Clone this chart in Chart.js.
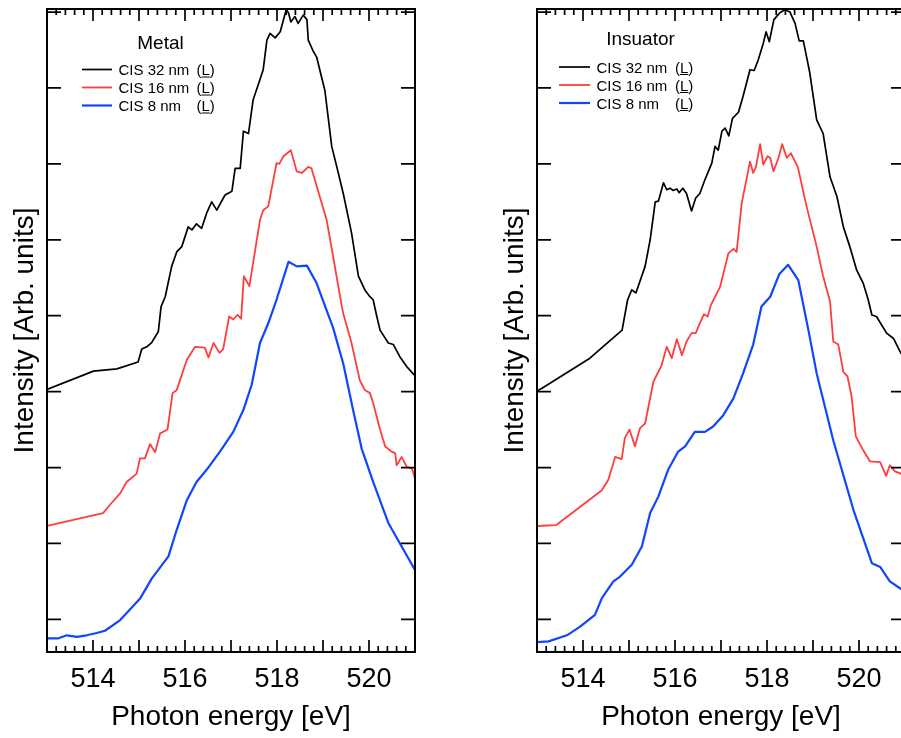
<!DOCTYPE html>
<html>
<head>
<meta charset="utf-8">
<title>CIS spectra – Metal / Insuator</title>
<script src="https://cdn.jsdelivr.net/npm/chart.js@4.4.1/dist/chart.umd.min.js"></script>
<style>
  html, body { margin: 0; padding: 0; background: #fff; overflow: hidden; }
  #wrap { position: relative; width: 901px; height: 738px; overflow: hidden; background: #fff; }
  canvas { position: absolute; top: 0; }
  #metal { left: 0; }
  #insulator { left: 490px; }
</style>
</head>
<body>
<div id="wrap">
  <canvas id="metal" width="450" height="738"></canvas>
  <canvas id="insulator" width="450" height="738"></canvas>
</div>
<script>
// ---- axis settings ----
const xMin = 513, xMax = 521;
const xTickLabels = [514, 516, 518, 520];
const xMinorStep = 0.2;
const yMin = -0.43, yMax = 8.04;
const yTickValues = [0, 1, 2, 3, 4, 5, 6, 7, 8];

// ---- series names ----
const seriesNames = ['CIS 32 nm', 'CIS 16 nm', 'CIS 8 nm'];

// ---- Metal panel ----
const metal32E = [513.0, 514.01, 514.52, 514.98, 515.06, 515.17, 515.28, 515.42, 515.48, 515.57, 515.71, 515.82, 515.93, 516.07, 516.15, 516.25, 516.36, 516.47, 516.58, 516.69, 516.87, 517.02, 517.09, 517.2, 517.27, 517.38, 517.48, 517.63, 517.7, 517.78, 517.85, 517.96, 518.07, 518.2, 518.25, 518.3, 518.39, 518.46, 518.57, 518.65, 518.68, 518.79, 518.86, 519.04, 519.19, 519.3, 519.44, 519.62, 519.77, 519.91, 520.02, 520.09, 520.17, 520.24, 520.42, 520.53, 520.67, 520.82, 521.0];
const metal32I = [3.03, 3.27, 3.30, 3.39, 3.56, 3.59, 3.65, 3.79, 4.12, 4.25, 4.65, 4.84, 4.91, 5.17, 5.13, 5.21, 5.15, 5.35, 5.50, 5.39, 5.59, 5.64, 5.94, 5.94, 6.43, 6.40, 6.84, 7.11, 7.24, 7.63, 7.72, 7.66, 7.74, 8.03, 7.99, 7.87, 7.94, 7.85, 7.96, 7.90, 7.63, 7.48, 7.41, 6.97, 6.23, 5.96, 5.61, 5.09, 4.52, 4.34, 4.25, 4.21, 3.99, 3.81, 3.64, 3.62, 3.46, 3.33, 3.21];

const metal16E = [513.0, 514.22, 514.37, 514.59, 514.73, 514.95, 515.02, 515.13, 515.24, 515.35, 515.46, 515.62, 515.73, 515.82, 516.04, 516.22, 516.43, 516.51, 516.62, 516.75, 516.83, 516.96, 517.05, 517.14, 517.22, 517.28, 517.4, 517.63, 517.7, 517.81, 517.99, 518.05, 518.14, 518.22, 518.3, 518.43, 518.54, 518.68, 518.75, 519.08, 519.22, 519.41, 519.44, 519.62, 519.8, 519.91, 520.02, 520.09, 520.24, 520.35, 520.49, 520.57, 520.6, 520.71, 520.82, 520.93, 521.0];
const metal16I = [1.23, 1.40, 1.51, 1.66, 1.81, 1.92, 2.12, 2.12, 2.31, 2.20, 2.45, 2.50, 2.98, 3.02, 3.42, 3.59, 3.58, 3.45, 3.64, 3.51, 3.56, 3.99, 3.95, 4.01, 3.96, 4.52, 4.39, 5.26, 5.39, 5.44, 6.01, 6.00, 6.10, 6.14, 6.18, 5.90, 5.88, 5.96, 5.94, 5.26, 4.78, 4.12, 4.03, 3.64, 3.15, 3.02, 2.98, 2.85, 2.50, 2.28, 2.21, 2.19, 2.03, 2.14, 2.01, 1.99, 1.86];

const metal8E = [513.0, 513.25, 513.43, 513.65, 513.86, 514.08, 514.26, 514.59, 515.02, 515.28, 515.64, 515.82, 516.04, 516.25, 516.47, 516.76, 517.05, 517.27, 517.45, 517.63, 517.81, 517.99, 518.25, 518.43, 518.65, 518.86, 519.22, 519.44, 519.66, 519.84, 520.09, 520.42, 521.0];
const metal8I = [-0.25, -0.25, -0.21, -0.23, -0.21, -0.18, -0.15, -0.01, 0.27, 0.54, 0.83, 1.18, 1.57, 1.81, 1.97, 2.21, 2.47, 2.76, 3.09, 3.64, 3.90, 4.21, 4.71, 4.65, 4.66, 4.43, 3.84, 3.37, 2.74, 2.25, 1.81, 1.27, 0.65];

// ---- Insuator panel ----
const insul32E = [513.0, 513.1, 514.15, 514.85, 514.97, 515.06, 515.15, 515.35, 515.46, 515.57, 515.64, 515.75, 515.82, 515.89, 515.96, 516.04, 516.09, 516.17, 516.25, 516.36, 516.45, 516.54, 516.65, 516.8, 516.87, 516.94, 517.02, 517.09, 517.17, 517.25, 517.38, 517.48, 517.63, 517.72, 517.81, 517.92, 517.98, 518.05, 518.15, 518.28, 518.39, 518.5, 518.61, 518.7, 518.79, 518.93, 519.08, 519.22, 519.37, 519.52, 519.66, 519.8, 519.95, 520.09, 520.2, 520.28, 520.38, 520.6, 520.75, 520.89, 521.0];
const insul32I = [3.01, 3.04, 3.44, 3.81, 4.21, 4.34, 4.30, 4.65, 5.00, 5.50, 5.51, 5.75, 5.66, 5.68, 5.65, 5.67, 5.62, 5.68, 5.61, 5.38, 5.55, 5.61, 5.79, 6.01, 6.23, 6.18, 6.43, 6.47, 6.37, 6.60, 6.68, 6.89, 7.24, 7.23, 7.37, 7.59, 7.74, 7.61, 7.90, 7.99, 8.03, 8.00, 7.85, 7.62, 7.62, 7.20, 6.58, 6.40, 5.83, 5.57, 5.17, 4.91, 4.60, 4.43, 4.21, 4.01, 3.99, 3.77, 3.70, 3.53, 3.42];

const insul16E = [513.0, 513.41, 513.72, 514.04, 514.41, 514.55, 514.7, 514.84, 514.91, 515.01, 515.13, 515.24, 515.35, 515.53, 515.71, 515.82, 515.93, 516.04, 516.15, 516.25, 516.36, 516.45, 516.54, 516.63, 516.71, 516.78, 516.98, 517.16, 517.27, 517.34, 517.45, 517.63, 517.7, 517.76, 517.85, 517.92, 518.01, 518.07, 518.14, 518.25, 518.33, 518.43, 518.52, 518.61, 518.67, 518.86, 519.08, 519.22, 519.37, 519.44, 519.55, 519.66, 519.75, 519.84, 519.93, 520.09, 520.24, 520.46, 520.59, 520.67, 520.78, 520.91, 521.0];
const insul16I = [1.23, 1.24, 1.38, 1.53, 1.70, 1.84, 2.14, 2.11, 2.39, 2.50, 2.28, 2.52, 2.58, 3.13, 3.35, 3.59, 3.44, 3.69, 3.48, 3.66, 3.77, 3.77, 3.90, 4.02, 3.99, 4.14, 4.38, 4.82, 4.88, 4.84, 5.48, 6.03, 5.88, 5.96, 6.26, 5.99, 6.10, 6.08, 5.90, 6.08, 6.26, 6.08, 6.14, 6.03, 5.96, 5.44, 4.91, 4.52, 4.19, 3.66, 3.62, 3.26, 3.20, 2.93, 2.41, 2.23, 2.08, 2.07, 1.89, 2.03, 1.95, 1.92, 1.86];

const insul8E = [513.0, 513.25, 513.65, 513.93, 514.26, 514.41, 514.66, 514.8, 515.06, 515.28, 515.46, 515.64, 515.85, 516.07, 516.22, 516.43, 516.65, 516.83, 517.05, 517.27, 517.48, 517.7, 517.88, 518.07, 518.27, 518.46, 518.68, 518.9, 519.08, 519.44, 519.88, 520.28, 520.46, 520.67, 520.89, 521.0];
const insul8I = [-0.30, -0.29, -0.21, -0.10, 0.06, 0.28, 0.50, 0.56, 0.72, 0.96, 1.40, 1.62, 1.97, 2.21, 2.28, 2.47, 2.47, 2.54, 2.69, 2.91, 3.24, 3.62, 4.12, 4.25, 4.55, 4.67, 4.47, 3.81, 3.24, 2.36, 1.44, 0.74, 0.69, 0.50, 0.41, 0.36];

// ---- styling ----
const FONT = '"Liberation Sans", Arial, Helvetica, sans-serif';
const lineColors = ['#000000', '#ff3d3d', '#1046ff'];
const lineWidths = [1.7, 1.8, 2.2];

Chart.defaults.font.family = FONT;
Chart.defaults.color = '#000';

const toPoints = (xs, ys) => xs.map((v, i) => ({ x: v, y: ys[i] }));

// Box frame with inward tick marks on all four sides
const frameTicks = {
  id: 'frameTicks',
  afterDatasetsDraw(chart) {
    const { ctx, chartArea: a, scales: { x, y } } = chart;
    ctx.save();
    ctx.strokeStyle = '#000';
    ctx.lineWidth = 1.7;
    ctx.beginPath();
    const n = Math.round((xMax - xMin) / xMinorStep);
    for (let i = 0; i <= n; i++) {
      const v = xMin + i * xMinorStep;
      const px = x.getPixelForValue(v);
      const major = Math.abs(v - Math.round(v)) < 1e-6;
      const len = major ? 12 : 6;
      ctx.moveTo(px, a.bottom); ctx.lineTo(px, a.bottom - len);
      ctx.moveTo(px, a.top); ctx.lineTo(px, a.top + len);
    }
    yTickValues.forEach(v => {
      const py = y.getPixelForValue(v);
      ctx.moveTo(a.left, py); ctx.lineTo(a.left + 14, py);
      ctx.moveTo(a.right, py); ctx.lineTo(a.right - 14, py);
    });
    ctx.stroke();
    ctx.lineWidth = 2;
    ctx.strokeRect(a.left, a.top, a.right - a.left, a.bottom - a.top);
    ctx.restore();
  }
};

// Legend box inside the plot area with a heading and the "(L)" axis tag
const panelLegend = {
  id: 'panelLegend',
  afterDraw(chart, args, o) {
    const ctx = chart.ctx;
    ctx.save();
    ctx.fillStyle = '#000';
    ctx.textBaseline = 'alphabetic';
    ctx.font = o.titleSize + 'px ' + FONT;
    ctx.textAlign = 'center';
    ctx.fillText(o.title, o.titleX, o.titleY);
    ctx.font = o.size + 'px ' + FONT;
    ctx.textAlign = 'left';
    const wOpen = ctx.measureText('(').width;
    const wL = ctx.measureText('L').width;
    chart.data.datasets.forEach((ds, i) => {
      const yr = o.rowY + i * o.rowGap;
      ctx.strokeStyle = ds.borderColor;
      ctx.lineWidth = ds.borderWidth;
      ctx.beginPath();
      ctx.moveTo(o.lineX0, yr);
      ctx.lineTo(o.lineX1, yr);
      ctx.stroke();
      ctx.fillText(ds.label, o.textX, yr + 5.5);
      ctx.fillText('(L)', o.tagX, yr + 5.5);
      ctx.strokeStyle = '#000';
      ctx.lineWidth = 1;
      ctx.beginPath();
      ctx.moveTo(o.tagX + wOpen, yr + 7.5);
      ctx.lineTo(o.tagX + wOpen + wL, yr + 7.5);
      ctx.stroke();
    });
    ctx.restore();
  }
};

function makePanel(canvasId, series, legendOpts) {
  const datasets = series.map((s, i) => ({
    label: seriesNames[i],
    data: toPoints(s[0], s[1]),
    borderColor: lineColors[i],
    borderWidth: lineWidths[i],
    pointRadius: 0,
    tension: 0,
    fill: false,
    borderJoinStyle: 'round'
  }));
  return new Chart(document.getElementById(canvasId), {
    type: 'line',
    data: { datasets },
    options: {
      responsive: false,
      animation: false,
      devicePixelRatio: 1,
      layout: { padding: { top: 9, right: 35, left: 0, bottom: 0 } },
      plugins: {
        legend: { display: false },
        tooltip: { enabled: false },
        panelLegend: legendOpts
      },
      scales: {
        x: {
          type: 'linear',
          min: xMin,
          max: xMax,
          afterBuildTicks: s => { s.ticks = xTickLabels.map(v => ({ value: v })); },
          afterFit: s => { s.height = 86; },
          grid: { display: false, drawTicks: false },
          border: { display: false },
          ticks: {
            font: { size: 27 },
            color: '#000',
            padding: 11,
            maxRotation: 0,
            autoSkip: false,
            callback: v => String(v)
          },
          title: {
            display: true,
            text: 'Photon energy [eV]',
            font: { size: 28 },
            color: '#000',
            padding: { top: 0, bottom: 4 }
          }
        },
        y: {
          type: 'linear',
          min: yMin,
          max: yMax,
          afterFit: s => { s.width = 47; },
          grid: { display: false, drawTicks: false },
          border: { display: false },
          ticks: { display: false },
          title: {
            display: true,
            text: 'Intensity [Arb. units]',
            font: { size: 28 },
            color: '#000',
            padding: { top: 8, bottom: 0 }
          }
        }
      }
    },
    plugins: [frameTicks, panelLegend]
  });
}

makePanel('metal',
  [[metal32E, metal32I], [metal16E, metal16I], [metal8E, metal8I]],
  { title: 'Metal', titleSize: 19, titleX: 160.5, titleY: 49,
    size: 15, rowY: 69.5, rowGap: 18, lineX0: 82, lineX1: 112,
    textX: 118.5, tagX: 196.5 });

makePanel('insulator',
  [[insul32E, insul32I], [insul16E, insul16I], [insul8E, insul8I]],
  { title: 'Insuator', titleSize: 19, titleX: 150.5, titleY: 44.5,
    size: 15, rowY: 67, rowGap: 18, lineX0: 69, lineX1: 100,
    textX: 106.5, tagX: 185 });
</script>
</body>
</html>
